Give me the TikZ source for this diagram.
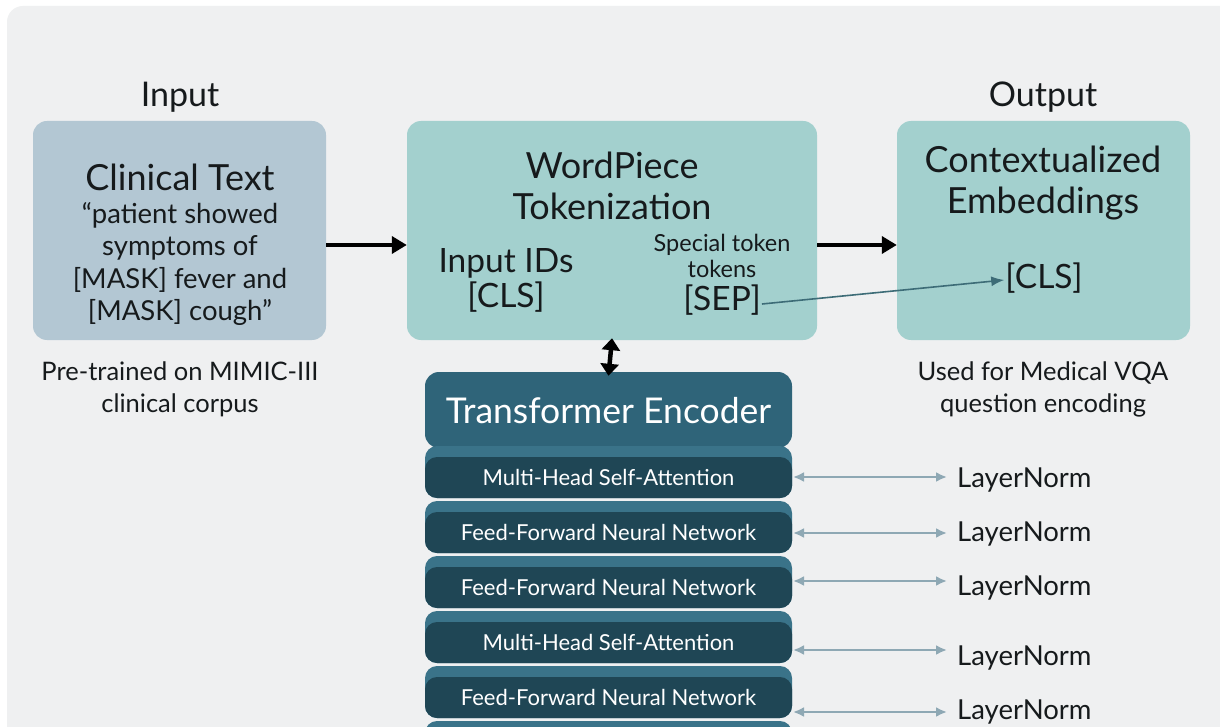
\documentclass[tikz,border=0pt]{standalone}
\usepackage{fontspec}
\setmainfont{Lato}
\usetikzlibrary{arrows.meta}

\definecolor{pagebg}{HTML}{EFF0F1}
\definecolor{inbox}{HTML}{B3C7D3}
\definecolor{tealbox}{HTML}{A3D0CE}
\definecolor{encbox}{HTML}{2F6479}
\definecolor{laylight}{HTML}{3A7389}
\definecolor{laydark}{HTML}{1F4655}
\definecolor{inktext}{HTML}{161A1C}
\definecolor{linkline}{HTML}{3D6C77}
\definecolor{normline}{HTML}{8EA8B4}

\tikzset{
  heading/.style={text=inktext, font=\fontsize{34}{38}\selectfont},
  panel/.style={rounded corners=14pt, minimum width=293pt, minimum height=219pt, inner sep=0pt},
  titletext/.style={text=inktext, align=center, font=\fontsize{36}{41}\selectfont},
  bodytext/.style={text=inktext, align=center, font=\fontsize{27.5}{32.5}\selectfont},
  notetext/.style={text=inktext, align=center, font=\fontsize{25.5}{32}\selectfont},
  tokentext/.style={text=inktext, align=center, font=\fontsize{33.5}{35}\selectfont},
  layerbox/.style={fill=laydark, rounded corners=12pt, minimum width=367pt, minimum height=41pt,
    inner sep=0pt, text=white, font=\fontsize{22}{26}\selectfont},
  normtext/.style={text=inktext, anchor=west, inner sep=0pt, font=\fontsize{27.5}{30}\selectfont},
  flow/.style={line width=3.6pt, -{Triangle[length=15pt,width=17pt]}},
  updown/.style={line width=4.5pt, {Triangle[length=12pt,width=18pt]}-{Triangle[length=12pt,width=18pt]}},
  link/.style={linkline, line width=1.6pt, -{Latex[length=13pt,width=10pt]}},
  normlink/.style={normline, line width=2.2pt, {Latex[length=11pt,width=10pt]}-{Latex[length=11pt,width=10pt]}},
}

\begin{document}
\begin{tikzpicture}[x=1pt,y=-1pt]
\useasboundingbox (0,0) rectangle (1220,727);
\fill[white] (0,0) rectangle (1220,727);
\begin{scope}
\clip (0,0) rectangle (1220,727);
\fill[pagebg, rounded corners=16pt] (7,6) rectangle (1250,780);

% headings
\node[heading] (hin) at (180,97) {Input};
\node[heading] (hout) at (1043,97) {Output};

% input panel
\node[panel, fill=inbox] (clin) at (179.5,230.5) {};
\node[titletext] (clintitle) at (180,177) {Clinical Text};
\node[bodytext] (quote) at (180,264) {“patient showed\\symptoms of\\{[MASK]} fever and\\{[MASK]} cough”};
\node[notetext] (pretrain) at (180,389) {Pre-trained on MIMIC-III\\clinical corpus};

% tokenization panel
\node[panel, fill=tealbox, minimum width=410pt] (wp) at (612,230.5) {};
\node[titletext] (wptitle) at (612,186) {WordPiece\\Tokenization};
\node[tokentext] (ids) at (506,280) {Input IDs\\{[CLS]}};
\node[titletext, font=\fontsize{23.5}{26}\selectfont] (special) at (722,256) {Special token\\tokens};
\node[tokentext, inner sep=1pt] (sep) at (722,300) {[SEP]};

% output panel
\node[panel, fill=tealbox] (outp) at (1043.5,230.5) {};
\node[titletext] (outtitle) at (1043,183) {Contextualized\\Embeddings};
\node[tokentext, inner sep=1pt] (cls) at (1044,278) {[CLS]};
\node[notetext] (usage) at (1043,389) {Used for Medical VQA\\question encoding};

% encoder stack
\node[fill=encbox, rounded corners=14pt, minimum width=367pt, minimum height=76pt, inner sep=0pt] (enc) at (608.5,410) {};
\node[text=white, font=\fontsize{35.5}{40}\selectfont] (enctitle) at (608.5,411) {Transformer Encoder};

\foreach \k/\lbl in {1/Multi-Head Self-Attention, 2/Feed-Forward Neural Network,
    3/Feed-Forward Neural Network, 4/Multi-Head Self-Attention, 5/Feed-Forward Neural Network}{
  \pgfmathsetmacro{\t}{446+55*(\k-1)}
  \fill[laylight, rounded corners=12pt] (425,\t) rectangle (792,\t+52);
  \node[layerbox] (L\k) at (608.5,\t+31.5) {\lbl};
}
\fill[laylight, rounded corners=12pt] (425,721) rectangle (792,773);

% layer norm labels
\node[normtext] (N1) at (957,480) {LayerNorm};
\node[normtext] (N2) at (957,534) {LayerNorm};
\node[normtext] (N3) at (957,588) {LayerNorm};
\node[normtext] (N4) at (957,658) {LayerNorm};
\node[normtext] (N5) at (957,712) {LayerNorm};

\coordinate (a1) at (793,477);
\coordinate (a2) at (793,533);
\coordinate (a3) at (793,581);
\coordinate (a4) at (793,650);
\coordinate (a5) at (793,712);
\foreach \k in {1,...,5}{
  \draw[normlink] (a\k) -- ([xshift=-10pt]N\k.west |- a\k);
}

% main flow
\draw[flow] ([yshift=-14.5pt]clin.east) -- ([yshift=-14.5pt]wp.west);
\draw[flow] ([yshift=-14.5pt]wp.east) -- ([yshift=-14.5pt]outp.west);
\draw[updown] ([yshift=2pt]wp.south) -- ([yshift=-4pt]enc.north);
\draw[link] ([yshift=-4pt]sep.east) -- ([yshift=-2pt]cls.west);
\end{scope}
\end{tikzpicture}
\end{document}
